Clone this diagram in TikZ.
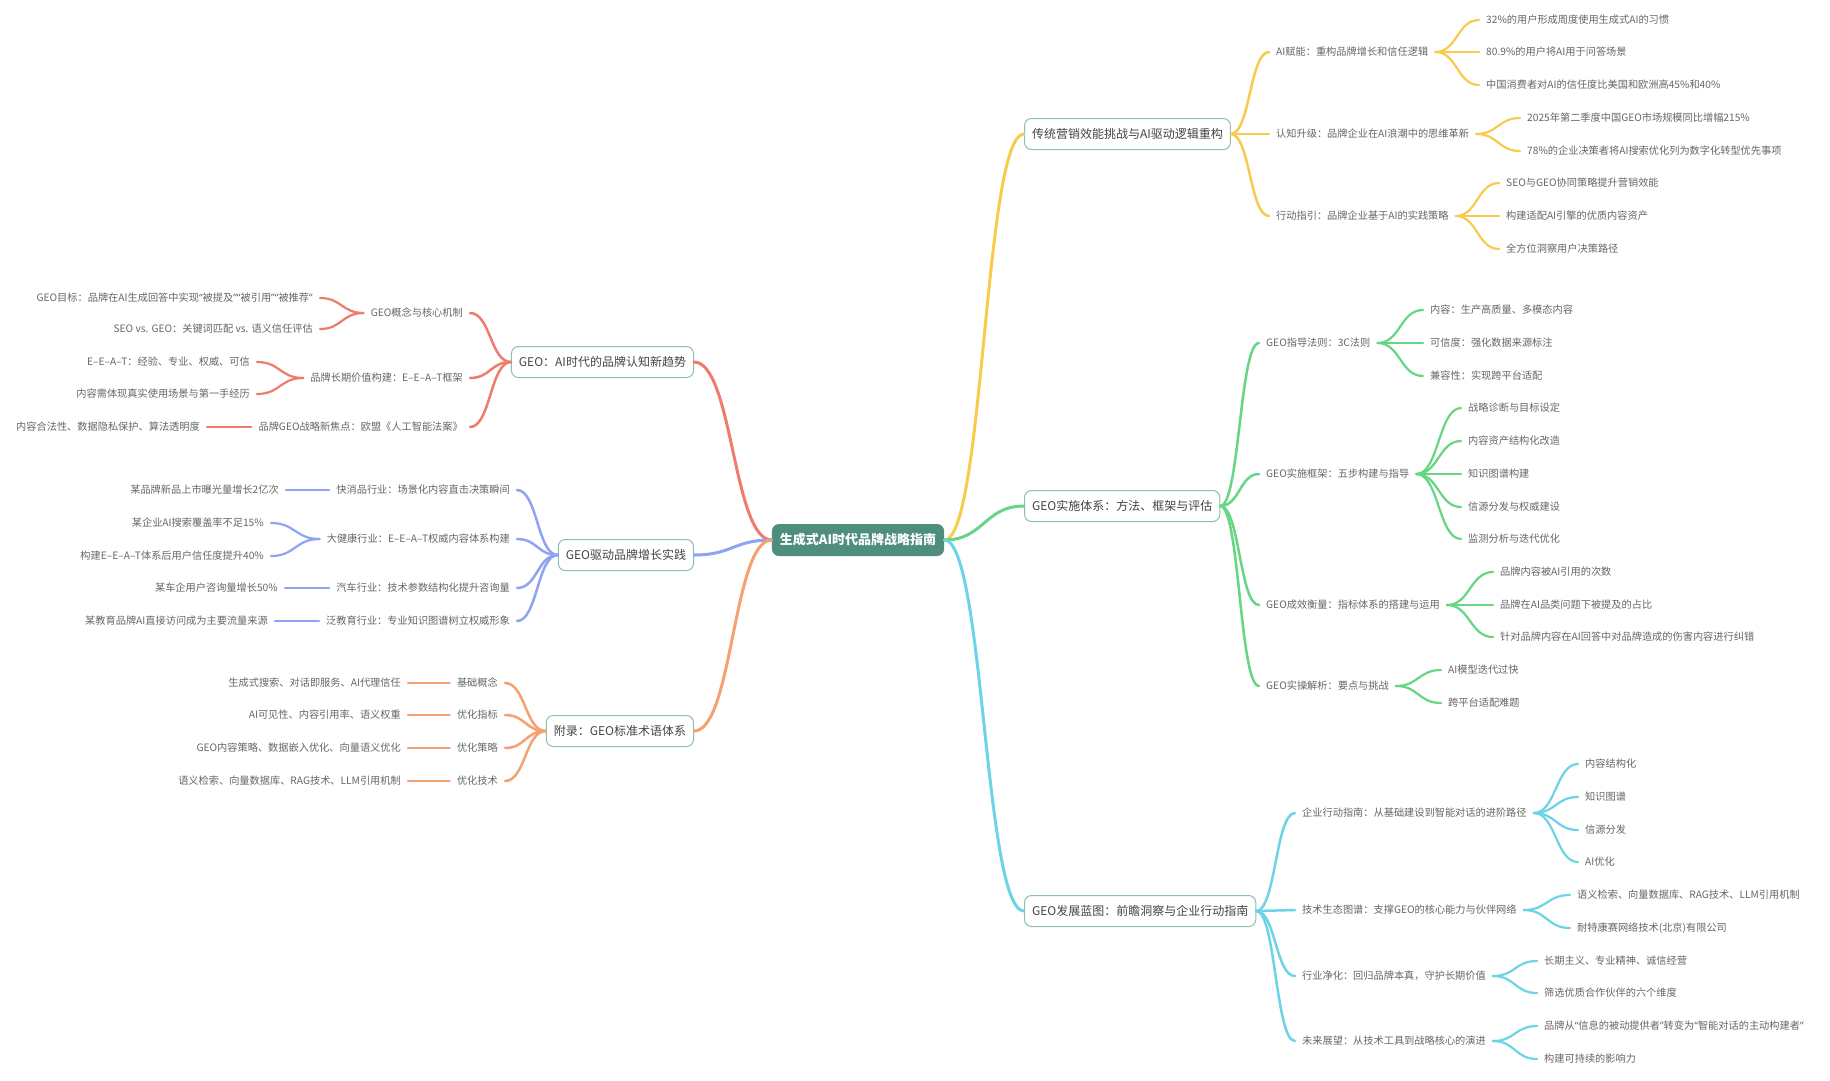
\documentclass[tikz,border=0pt]{standalone}
\usepackage{fontspec}
\setmainfont{Noto Sans CJK SC}
\newfontfamily\myqfont{Noto Sans}
\newcommand{\myoq}{{\myqfont “}}
\newcommand{\mycq}{{\myqfont ”}}
\usetikzlibrary{calc}
\definecolor{cyel}{HTML}{F8CB4C}
\definecolor{cgrn}{HTML}{66D684}
\definecolor{ccyn}{HTML}{6DD3E6}
\definecolor{cred}{HTML}{EF7B6D}
\definecolor{cblu}{HTML}{8EA4F3}
\definecolor{cora}{HTML}{F6A171}
\definecolor{rootfill}{HTML}{4F8D7C}
\definecolor{boxline}{HTML}{8CBFB1}
\definecolor{txt}{HTML}{666666}
\definecolor{txtdark}{HTML}{444444}
\begin{document}
\begin{tikzpicture}[x=1pt,y=-1pt,
 rootbox/.style={fill=rootfill, text=white, rounded corners=7pt, font=\fontsize{13}{15}\selectfont\bfseries, inner xsep=8pt, minimum height=32pt},
 topic/.style={draw=boxline, line width=1pt, fill=white, rounded corners=7pt, text=txtdark, font=\fontsize{12}{14}\selectfont, inner xsep=7.5pt, minimum height=31pt},
 leaf/.style={text=txt, font=\fontsize{10.2}{12}\selectfont, inner xsep=7pt, inner ysep=2pt},
 rl/.style={leaf, anchor=west},
 ll/.style={leaf, anchor=east},
 curve/.style={to path={let \p1=(\tikztostart), \p2=(\tikztotarget) in .. controls ({(\x1+\x2)/2},\y1) and ({(\x1+\x2)/2},\y2) .. (\tikztotarget)}},
 lone/.style={line width=3pt, line cap=round},
 ltwo/.style={line width=2.5pt, line cap=round},
 lthree/.style={line width=2.2pt, line cap=round}]
\fill[white] (0,0) rectangle (1830,1080);
\useasboundingbox (0,0) rectangle (1830,1080);

% root
\node[rootbox] (R) at (858,540) {生成式AI时代品牌战略指南};

% level 1
\node[topic, anchor=west] (A) at (1024,134) {传统营销效能挑战与AI驱动逻辑重构};
\node[topic, anchor=west] (B) at (1024,506) {GEO实施体系：方法、框架与评估};
\node[topic, anchor=west] (C) at (1024,911) {GEO发展蓝图：前瞻洞察与企业行动指南};
\node[topic, anchor=east] (D) at (694,362) {GEO：AI时代的品牌认知新趋势};
\node[topic, anchor=east] (E) at (694,555) {GEO驱动品牌增长实践};
\node[topic, anchor=east] (F) at (694,731) {附录：GEO标准术语体系};

% yellow
\node[rl] (A1) at (1269,52) {AI赋能：重构品牌增长和信任逻辑};
\node[rl] (A2) at (1269,134) {认知升级：品牌企业在AI浪潮中的思维革新};
\node[rl] (A3) at (1269,216) {行动指引：品牌企业基于AI的实践策略};
\node[rl] (A1a) at (1479,20) {32\%的用户形成周度使用生成式AI的习惯};
\node[rl] (A1b) at (1479,52) {80.9\%的用户将AI用于问答场景};
\node[rl] (A1c) at (1479,85) {中国消费者对AI的信任度比美国和欧洲高45\%和40\%};
\node[rl] (A2a) at (1520,118) {2025年第二季度中国GEO市场规模同比增幅215\%};
\node[rl] (A2b) at (1520,151) {78\%的企业决策者将AI搜索优化列为数字化转型优先事项};
\node[rl] (A3a) at (1499,183) {SEO与GEO协同策略提升营销效能};
\node[rl] (A3b) at (1499,216) {构建适配AI引擎的优质内容资产};
\node[rl] (A3c) at (1499,249) {全方位洞察用户决策路径};

% green
\node[rl] (B1) at (1259,343) {GEO指导法则：3C法则};
\node[rl] (B2) at (1259,474) {GEO实施框架：五步构建与指导};
\node[rl] (B3) at (1259,605) {GEO成效衡量：指标体系的搭建与运用};
\node[rl] (B4) at (1259,686) {GEO实操解析：要点与挑战};
\node[rl] (B1a) at (1423,310) {内容：生产高质量、多模态内容};
\node[rl] (B1b) at (1423,343) {可信度：强化数据来源标注};
\node[rl] (B1c) at (1423,376) {兼容性：实现跨平台适配};
\node[rl] (B2a) at (1461,408) {战略诊断与目标设定};
\node[rl] (B2b) at (1461,441) {内容资产结构化改造};
\node[rl] (B2c) at (1461,474) {知识图谱构建};
\node[rl] (B2d) at (1461,507) {信源分发与权威建设};
\node[rl] (B2e) at (1461,539) {监测分析与迭代优化};
\node[rl] (B3a) at (1493,572) {品牌内容被AI引用的次数};
\node[rl] (B3b) at (1493,605) {品牌在AI品类问题下被提及的占比};
\node[rl] (B3c) at (1493,637) {针对品牌内容在AI回答中对品牌造成的伤害内容进行纠错};
\node[rl] (B4a) at (1441,670) {AI模型迭代过快};
\node[rl] (B4b) at (1441,703) {跨平台适配难题};

% cyan
\node[rl] (C1) at (1295,813) {企业行动指南：从基础建设到智能对话的进阶路径};
\node[rl] (C2) at (1295,910) {技术生态图谱：支撑GEO的核心能力与伙伴网络};
\node[rl] (C3) at (1295,976) {行业净化：回归品牌本真，守护长期价值};
\node[rl] (C4) at (1295,1041) {未来展望：从技术工具到战略核心的演进};
\node[rl] (C1a) at (1578,764) {内容结构化};
\node[rl] (C1b) at (1578,797) {知识图谱};
\node[rl] (C1c) at (1578,830) {信源分发};
\node[rl] (C1d) at (1578,862) {AI优化};
\node[rl] (C2a) at (1570,895) {语义检索、向量数据库、RAG技术、LLM引用机制};
\node[rl] (C2b) at (1570,928) {耐特康赛网络技术(北京)有限公司};
\node[rl] (C3a) at (1537,961) {长期主义、专业精神、诚信经营};
\node[rl] (C3b) at (1537,993) {筛选优质合作伙伴的六个维度};
\node[rl] (C4a) at (1537,1026) {品牌从\myoq 信息的被动提供者\mycq 转变为\myoq 智能对话的主动构建者\mycq};
\node[rl] (C4b) at (1537,1059) {构建可持续的影响力};

% red
\node[ll] (D1) at (470,313) {GEO概念与核心机制};
\node[ll] (D2) at (470,378) {品牌长期价值构建：E–E–A–T框架};
\node[ll] (D3) at (470,427) {品牌GEO战略新焦点：欧盟《人工智能法案》};
\node[ll] (D1a) at (320,298) {GEO目标：品牌在AI生成回答中实现\myoq 被提及\mycq\myoq 被引用\mycq\myoq 被推荐\mycq};
\node[ll] (D1b) at (320,329) {SEO vs. GEO：关键词匹配 vs. 语义信任评估};
\node[ll] (D2a) at (257,362) {E–E–A–T：经验、专业、权威、可信};
\node[ll] (D2b) at (257,394) {内容需体现真实使用场景与第一手经历};
\node[ll] (D3a) at (207,427) {内容合法性、数据隐私保护、算法透明度};

% blue
\node[ll] (E1) at (517,490) {快消品行业：场景化内容直击决策瞬间};
\node[ll] (E2) at (517,539) {大健康行业：E–E–A–T权威内容体系构建};
\node[ll] (E3) at (517,588) {汽车行业：技术参数结构化提升咨询量};
\node[ll] (E4) at (517,621) {泛教育行业：专业知识图谱树立权威形象};
\node[ll] (E1a) at (286,490) {某品牌新品上市曝光量增长2亿次};
\node[ll] (E2a) at (271,523) {某企业AI搜索覆盖率不足15\%};
\node[ll] (E2b) at (271,556) {构建E–E–A–T体系后用户信任度提升40\%};
\node[ll] (E3a) at (285,588) {某车企用户咨询量增长50\%};
\node[ll] (E4a) at (275,621) {某教育品牌AI直接访问成为主要流量来源};

% orange
\node[ll] (F1) at (505,683) {基础概念};
\node[ll] (F2) at (505,715) {优化指标};
\node[ll] (F3) at (505,748) {优化策略};
\node[ll] (F4) at (505,781) {优化技术};
\node[ll] (F1a) at (408,683) {生成式搜索、对话即服务、AI代理信任};
\node[ll] (F2a) at (408,715) {AI可见性、内容引用率、语义权重};
\node[ll] (F3a) at (408,748) {GEO内容策略、数据嵌入优化、向量语义优化};
\node[ll] (F4a) at (408,781) {语义检索、向量数据库、RAG技术、LLM引用机制};

% connectors: root
\draw[lone, cyel] (R.east) to[curve] (A.west);
\draw[lone, cgrn] (R.east) to[curve] (B.west);
\draw[lone, ccyn] (R.east) to[curve] (C.west);
\draw[lone, cred] (R.west) to[curve] (D.east);
\draw[lone, cblu] (R.west) to[curve] (E.east);
\draw[lone, cora] (R.west) to[curve] (F.east);

% level 1 -> 2
\foreach \dst in {A1,A2,A3} \draw[ltwo, cyel] (A.east) to[curve] (\dst.west);
\foreach \dst in {B1,B2,B3,B4} \draw[ltwo, cgrn] (B.east) to[curve] (\dst.west);
\foreach \dst in {C1,C2,C3,C4} \draw[ltwo, ccyn] (C.east) to[curve] (\dst.west);
\foreach \dst in {D1,D2,D3} \draw[ltwo, cred] (D.west) to[curve] (\dst.east);
\foreach \dst in {E1,E2,E3,E4} \draw[ltwo, cblu] (E.west) to[curve] (\dst.east);
\foreach \dst in {F1,F2,F3,F4} \draw[ltwo, cora] (F.west) to[curve] (\dst.east);

% level 2 -> 3 right
\foreach \src/\dst in {A1/A1a,A1/A1b,A1/A1c,A2/A2a,A2/A2b,A3/A3a,A3/A3b,A3/A3c}
  \draw[lthree, cyel] (\src.east) to[curve] (\dst.west);
\foreach \src/\dst in {B1/B1a,B1/B1b,B1/B1c,B2/B2a,B2/B2b,B2/B2c,B2/B2d,B2/B2e,B3/B3a,B3/B3b,B3/B3c,B4/B4a,B4/B4b}
  \draw[lthree, cgrn] (\src.east) to[curve] (\dst.west);
\foreach \src/\dst in {C1/C1a,C1/C1b,C1/C1c,C1/C1d,C2/C2a,C2/C2b,C3/C3a,C3/C3b,C4/C4a,C4/C4b}
  \draw[lthree, ccyn] (\src.east) to[curve] (\dst.west);
% level 2 -> 3 left
\foreach \src/\dst in {D1/D1a,D1/D1b,D2/D2a,D2/D2b,D3/D3a}
  \draw[lthree, cred] (\src.west) to[curve] (\dst.east);
\foreach \src/\dst in {E1/E1a,E2/E2a,E2/E2b,E3/E3a,E4/E4a}
  \draw[lthree, cblu] (\src.west) to[curve] (\dst.east);
\foreach \src/\dst in {F1/F1a,F2/F2a,F3/F3a,F4/F4a}
  \draw[lthree, cora] (\src.west) to[curve] (\dst.east);
\end{tikzpicture}
\end{document}
